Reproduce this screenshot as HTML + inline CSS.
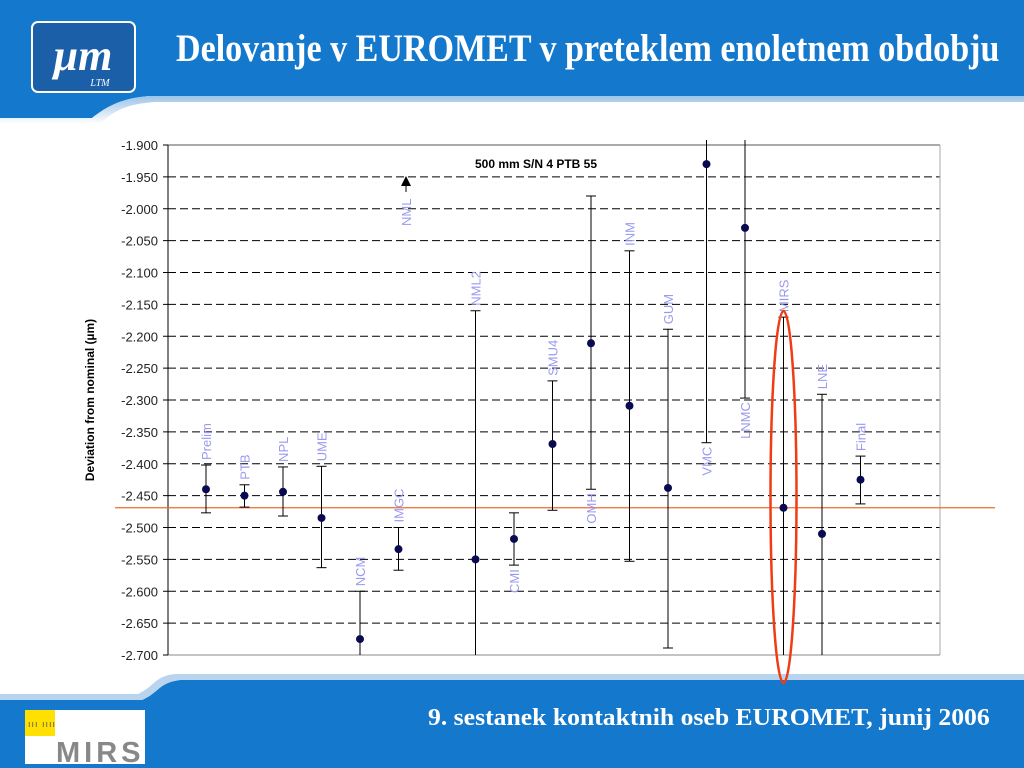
<!DOCTYPE html>
<html><head><meta charset="utf-8"><style>
body{margin:0;width:1024px;height:768px;overflow:hidden;background:#fff;font-family:"Liberation Sans",sans-serif;position:relative}
.title{position:absolute;left:176px;top:26px;font-family:"Liberation Serif",serif;font-weight:bold;font-size:39px;color:#fff;white-space:nowrap;transform-origin:0 0;transform:scaleX(0.873)}
.foot{position:absolute;left:428px;top:705px;font-family:"Liberation Serif",serif;font-weight:bold;font-size:24px;color:#fff;white-space:nowrap;transform-origin:0 0;transform:scaleX(1.07)}
</style></head><body>
<svg width="1024" height="768" style="position:absolute;left:0;top:0">
<defs><linearGradient id="sh" x1="0" y1="0" x2="0" y2="1"><stop offset="0" stop-color="#9cc4e8"/><stop offset="1" stop-color="#fff"/></linearGradient></defs>
<path d="M0 0H1024V96H150C120 98 105 108 92 118H0Z" fill="#1478cc"/>
<path d="M0 118H92C105 108 120 98 150 96H1024V102H155C125 104 112 112 100 124H0Z" fill="url(#sh)"/>
<path d="M0 700H142C160 692 158 683 180 680H1024V768H0Z" fill="#1478cc"/>
<path d="M0 694H138C155 686 155 676 175 674H1024V680H180C158 683 160 692 142 700H0Z" fill="#b8d4ee"/>
<rect x="32" y="22" width="103" height="70" rx="6" fill="#1a5fa8" stroke="#fff" stroke-width="2"/>
<text x="83" y="70" text-anchor="middle" font-family="Liberation Serif" font-style="italic" font-weight="bold" font-size="44" fill="#fff">μm</text>
<text x="100" y="86" text-anchor="middle" font-family="Liberation Serif" font-style="italic" font-size="10" fill="#fff">LTM</text>
<g>
<rect x="25" y="710" width="120" height="54" fill="#fff"/><rect x="25" y="710" width="30" height="26" fill="#ffe000"/>
<text x="28" y="727" font-size="9" fill="#555" letter-spacing="1">ııı ıııı</text>
<text x="56" y="762" font-size="29" font-weight="bold" fill="#888" letter-spacing="4">MIRS</text></g>
</svg>
<div class="title">Delovanje v EUROMET v preteklem enoletnem obdobju</div>
<div class="foot">9. sestanek kontaktnih oseb EUROMET, junij 2006</div>
<svg id="chart" width="1024" height="768" style="position:absolute;left:0;top:0"></svg>
<script>
const labels=["Prelim","PTB","NPL","UME","NCM","IMGC","","NML2","CMI","SMU4","OMH","INM","GUM","VMC","LNMC","MIRS","LNE","Final"];
const values=[-2.44,-2.45,-2.444,-2.485,-2.675,-2.534,null,-2.55,-2.518,-2.369,-2.211,-2.309,-2.438,-1.93,-2.03,-2.469,-2.51,-2.425];
const upper=[-2.402,-2.433,-2.405,-2.404,-2.600,-2.500,null,-2.16,-2.477,-2.27,-1.98,-2.066,-2.189,-1.85,-1.85,-2.17,-2.291,-2.388];
const lower=[-2.477,-2.468,-2.482,-2.563,-2.75,-2.567,null,-2.75,-2.559,-2.473,-2.44,-2.553,-2.689,-2.367,-2.297,-2.705,-2.75,-2.463];
const labelBelow=["CMI","OMH","VMC","LNMC"];
const refValue=-2.469;
const yTicks=[-1.9,-1.95,-2.0,-2.05,-2.1,-2.15,-2.2,-2.25,-2.3,-2.35,-2.4,-2.45,-2.5,-2.55,-2.6,-2.65,-2.7];
const ns="http://www.w3.org/2000/svg",svg=document.getElementById('chart');
const L=168,R=940,T=145,B=655,yMin=-2.7,yMax=-1.9;
const y=v=>B-(v-yMin)/(yMax-yMin)*(B-T);
const x=i=>206+i*38.5;
function mk(t,a,p){const e=document.createElementNS(ns,t);for(const k in a)e.setAttribute(k,a[k]);(p||svg).appendChild(e);return e;}
const clip=mk('clipPath',{id:'pc'});mk('rect',{x:L,y:T-5,width:R-L,height:B-T+5},clip);
yTicks.forEach((v,i)=>{
 if(i>0&&i<yTicks.length-1){const g=mk('line',{x1:L,x2:R,y1:y(v),y2:y(v),stroke:'#000','stroke-dasharray':'8,4','stroke-width':1});
 
 }
 mk('line',{x1:L-5,x2:L,y1:y(v),y2:y(v),stroke:'#000'});
 const t=mk('text',{x:L-10,y:y(v)+5,'text-anchor':'end','font-size':13,fill:'#222'});t.textContent=v.toFixed(3);
 
 
});
mk('line',{x1:L,x2:R,y1:T,y2:T,stroke:'#aaa','stroke-width':2});
mk('line',{x1:R,x2:R,y1:T,y2:B,stroke:'#aaa'});
mk('line',{x1:L,x2:R,y1:B,y2:B,stroke:'#888'});
mk('line',{x1:L,x2:L,y1:T,y2:B,stroke:'#000'});
const yt=mk('text',{x:0,y:0,transform:'translate(94,400) rotate(-90)','text-anchor':'middle','font-size':12,'font-weight':'bold'});yt.textContent='Deviation from nominal (µm)';


const ct=mk('text',{x:536,y:168,'text-anchor':'middle','font-size':12,'font-weight':'bold'});ct.textContent='500 mm S/N 4 PTB 55';


const ref=mk('line',{x1:115,x2:995,y1:y(refValue),y2:y(refValue),stroke:'#f06a30','stroke-width':1.3});


const pg=mk('g',{'clip-path':'url(#pc)'});
labels.forEach((lb,i)=>{
 if(values[i]===null)return;
 const cx=x(i);
 const e=mk('line',{x1:cx,x2:cx,y1:y(upper[i]),y2:y(lower[i]),stroke:'#000'},pg);
 
 
 [upper[i],lower[i]].forEach(v=>{if(v>yMin&&v<yMax)mk('line',{x1:cx-5,x2:cx+5,y1:y(v),y2:y(v),stroke:'#000'},pg);});
 const p=mk('circle',{cx:cx,cy:y(values[i]),r:4,fill:'#0a0a50'},pg);
 
 
 let t;
 if(labelBelow.includes(lb)){
  t=mk('text',{transform:`translate(${cx+5},${y(lower[i])+4}) rotate(-90)`,'text-anchor':'end','font-size':13,fill:'#9a9aee'});
 }else{
  t=mk('text',{transform:`translate(${cx+5},${y(upper[i])-5}) rotate(-90)`,'text-anchor':'start','font-size':13,fill:'#9a9aee'});
 }
 t.textContent=lb;
 
 
});
// NML off-scale annotation
mk('line',{x1:406,x2:406,y1:192,y2:182,stroke:'#000'});
mk('path',{d:'M401 186 L406 176 L411 186Z',fill:'#000'});
const nml=mk('text',{transform:'translate(411,226) rotate(-90)','font-size':13,fill:'#9a9aee'});nml.textContent='NML';


const el=mk('ellipse',{cx:x(15),cy:497,rx:13,ry:186,fill:'none',stroke:'#f03c14','stroke-width':2.5});


</script>
</body></html>
